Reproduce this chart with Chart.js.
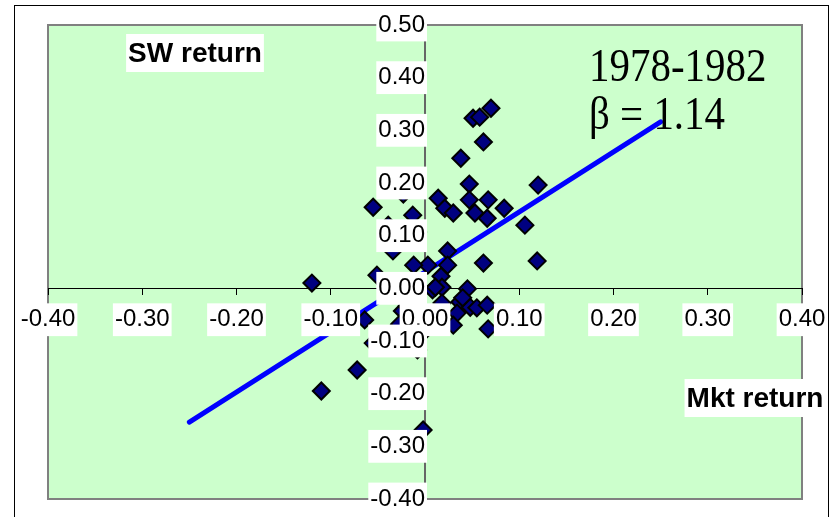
<!DOCTYPE html>
<html><head><meta charset="utf-8">
<script src="https://cdn.jsdelivr.net/npm/chart.js@4/dist/chart.umd.min.js"></script>
<style>html,body{margin:0;padding:0;background:#fff}#wrap{width:835px;height:517px}</style>
</head><body><div id="wrap"><canvas id="c" width="835" height="517"></canvas></div>
<script>
// Monthly returns 1978-1982
const mktReturn = [0.070,0.051,0.058,0.062,0.038,0.047,0.120,0.014,0.021,0.030,0.047,0.053,0.067,0.066,0.084,0.106,0.119,0.062,0.024,0.024,0.003,-0.012,0.017,0.008,0.018,0.018,0.037,0.045,0.034,0.030,0.048,0.055,0.066,0.067,-0.055,-0.023,-0.013,-0.039,-0.008,-0.034,-0.051,-0.120,-0.064,-0.024,-0.019,-0.027,0.002,-0.008,-0.072,-0.110,-0.002,-0.055,0.011,0.040];
const swReturn  = [0.342,0.323,0.325,0.278,0.247,0.198,0.196,0.171,0.152,0.143,0.168,0.143,0.168,0.133,0.152,0.120,0.052,0.048,0.071,0.044,0.044,0.044,0.023,-0.003,0.002,-0.028,-0.026,-0.001,-0.047,-0.070,-0.036,-0.037,-0.032,-0.077,0.154,0.179,0.139,0.120,0.107,0.071,0.025,0.010,-0.060,-0.043,-0.034,-0.068,-0.077,-0.117,-0.155,-0.195,-0.269,-0.104,0.002,-0.018];
const fitX = [-0.25, 0.25];
const fitY = [-0.254, 0.316];
const xTicks = [-0.4,-0.3,-0.2,-0.1,0,0.1,0.2,0.3,0.4];
const yTicks = [-0.4,-0.3,-0.2,-0.1,0,0.1,0.2,0.3,0.4,0.5];
const yAxisTitle = 'SW return';
const xAxisTitle = 'Mkt return';
const periodLabel = '1978-1982';
const betaLabel = 'β = 1.14';

const tickFont = {family: "'Liberation Sans Narrow', 'Liberation Sans', Arial, sans-serif", size: 24};
const fmt = v => (Math.abs(v) < 1e-9 ? 0 : v).toFixed(2);
const noPad = s => { s.paddingTop = 0; s.paddingBottom = 0; s.paddingLeft = 0; s.paddingRight = 0; };

const decor = {
  id: 'decor',
  beforeDraw(chart) {
    const {ctx, chartArea: a, width, height} = chart;
    ctx.save();
    ctx.fillStyle = '#fff'; ctx.fillRect(0, 0, width, height);
    ctx.strokeStyle = '#000'; ctx.lineWidth = 1;
    ctx.strokeRect(14.5, 5.5, width - 21, height + 10);
    ctx.fillStyle = '#CCFFCC'; ctx.fillRect(a.left, a.top, a.width, a.height);
    ctx.strokeStyle = '#808080'; ctx.lineWidth = 2;
    ctx.strokeRect(a.left, a.top, a.width, a.height);
    ctx.restore();
  },
  afterDraw(chart) {
    const {ctx, chartArea: a} = chart;
    ctx.save();
    ctx.font = "bold 28px 'Liberation Sans', Arial, sans-serif";
    ctx.textAlign = 'center'; ctx.textBaseline = 'middle';
    const box = (t, cx, cy) => {
      const w = ctx.measureText(t).width;
      ctx.fillStyle = '#fff'; ctx.fillRect(cx - w/2 - 2, cy - 19, w + 4, 38);
      ctx.fillStyle = '#000'; ctx.fillText(t, cx, cy + 1);
    };
    box(yAxisTitle, a.left + 147, a.top + 28);
    box(xAxisTitle, a.right - 47, a.bottom - 101);
    ctx.font = "46px 'Liberation Serif', 'Times New Roman', serif";
    ctx.textAlign = 'left'; ctx.textBaseline = 'alphabetic';
    ctx.fillStyle = '#000';
    ctx.save(); ctx.translate(589, 0); ctx.scale(0.89, 1);
    ctx.fillText(periodLabel, 0, 81);
    ctx.fillText(betaLabel, 0, 129);
    ctx.restore();
    ctx.restore();
  }
};

new Chart(document.getElementById('c'), {
  type: 'scatter',
  data: {
    datasets: [
      {
        label: 'returns',
        data: mktReturn.map((x, i) => ({x, y: swReturn[i]})),
        pointStyle: 'rectRot', pointRadius: 8.5, pointBorderWidth: 2,
        backgroundColor: '#000080', borderColor: '#000000', order: 0
      },
      {
        label: 'fit', type: 'line',
        data: fitX.map((x, i) => ({x, y: fitY[i]})),
        borderColor: '#0000FF', borderWidth: 5, pointRadius: 0, borderCapStyle: 'round', order: 1
      }
    ]
  },
  plugins: [decor],
  options: {
    responsive: false, animation: false, devicePixelRatio: 1,
    layout: {padding: {left: 48, top: 25, right: 33, bottom: 18}},
    plugins: {legend: {display: false}, tooltip: {enabled: false}},
    scales: {
      x: {
        type: 'linear', min: -0.4, max: 0.4, position: {y: 0},
        afterBuildTicks: s => { s.ticks = xTicks.map(v => ({value: v})); },
        afterFit: noPad,
        grid: {drawOnChartArea: false, drawTicks: true, tickLength: 6, tickColor: '#000', tickWidth: 1},
        border: {color: '#000', width: 1},
        ticks: {font: tickFont, color: '#000', autoSkip: false, maxRotation: 0, padding: 11, z: 1,
                showLabelBackdrop: true, backdropColor: '#fff', backdropPadding: 2, callback: fmt}
      },
      y: {
        type: 'linear', min: -0.4, max: 0.5, position: {x: 0},
        afterBuildTicks: s => { s.ticks = yTicks.map(v => ({value: v})); },
        afterFit: noPad,
        grid: {drawOnChartArea: false, drawTicks: true, tickLength: 6, tickColor: '#000', tickWidth: 1},
        border: {color: '#666', width: 2},
        ticks: {font: tickFont, color: '#000', autoSkip: false, padding: 12, z: 1,
                showLabelBackdrop: true, backdropColor: '#fff', backdropPadding: 2, callback: fmt}
      }
    }
  }
});
</script></body></html>
